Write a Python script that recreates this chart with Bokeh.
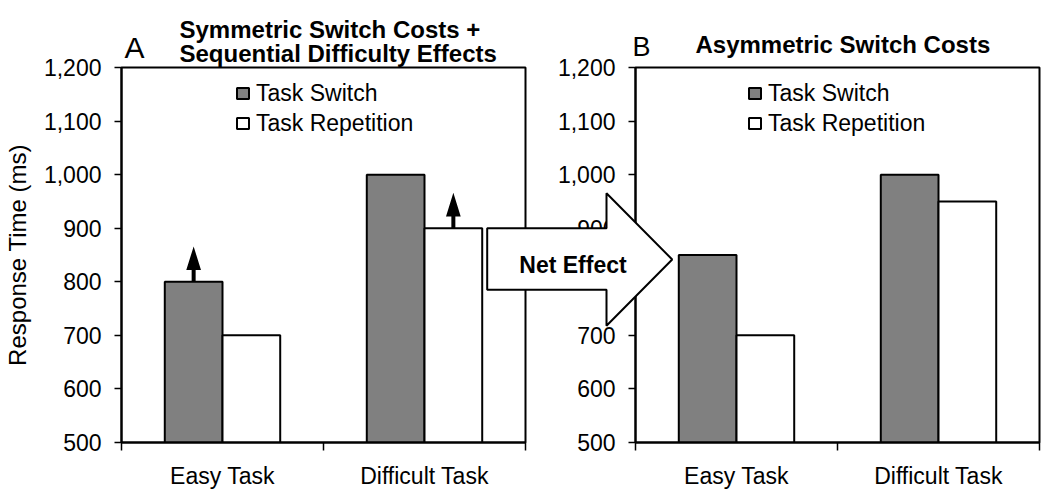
from bokeh.plotting import figure
from bokeh.layouts import row
from bokeh.models import (Range1d, LinearAxis, FixedTicker, NumeralTickFormatter,
                          Legend, LegendItem, Label, PolyAnnotation, ColumnDataSource)
from bokeh.embed import file_html
from bokeh.resources import INLINE

# ---------------- data ----------------
categories = ["Easy Task", "Difficult Task"]
series = ["Task Switch", "Task Repetition"]
panel_a_switch = [800, 1000]
panel_a_repetition = [700, 900]
panel_b_switch = [850, 1000]
panel_b_repetition = [700, 950]
y_ticks = [500, 600, 700, 800, 900, 1000, 1100, 1200]
# bars of panel A that carry a small "increase" arrow
arrow_bars_a = [("Easy Task", "Task Switch"), ("Difficult Task", "Task Repetition")]
y_label = "Response Time (ms)"
title_a = ["Symmetric Switch Costs +", "Sequential Difficulty Effects"]
title_b = "Asymmetric Switch Costs"
net_label = "Net Effect"

# ---------------- style ----------------
FONT = "Liberation Sans"
GRAY = "#808080"
FILLS = [GRAY, "white"]
BAR_W = 2 / 7
OFFSETS = [-1 / 7, 1 / 7]
FS = "23px"
FRAME_W, FRAME_H = 404, 375
TOP, BOTTOM = 67, 58


def style_axis(ax):
    ax.axis_line_color = "black"
    ax.axis_line_width = 2
    ax.major_tick_line_color = "black"
    ax.major_tick_line_width = 1.5
    ax.minor_tick_line_color = "black"
    ax.minor_tick_line_width = 1.5
    ax.major_label_text_font = FONT
    ax.major_label_text_font_size = FS
    ax.major_label_text_color = "black"


def make_panel(switch, repetition, border_left, border_right, legend_x, ylab=None):
    n = len(categories)
    p = figure(frame_width=FRAME_W, frame_height=FRAME_H,
               x_range=Range1d(0, n), y_range=Range1d(y_ticks[0], y_ticks[-1]),
               x_axis_type=None, y_axis_type=None, title=None,
               output_backend="svg", toolbar_location=None, tools="",
               min_border_left=border_left, min_border_right=border_right,
               min_border_top=TOP, min_border_bottom=BOTTOM)
    p.outline_line_color = "black"
    p.outline_line_width = 2
    p.outline_line_alpha = 1
    p.background_fill_color = "white"

    renderers = []
    for j, vals in enumerate([switch, repetition]):
        src = ColumnDataSource(dict(
            x=[i + 0.5 + OFFSETS[j] for i in range(n)],
            top=vals, cat=categories))
        r = p.vbar(x="x", top="top", bottom=y_ticks[0], width=BAR_W, source=src,
                   fill_color=FILLS[j], line_color="black", line_width=2)
        renderers.append(r)

    yaxis = LinearAxis(ticker=FixedTicker(ticks=y_ticks, minor_ticks=[]),
                       formatter=NumeralTickFormatter(format="0,0"))
    style_axis(yaxis)
    yaxis.major_tick_out = 7
    yaxis.major_tick_in = 0
    yaxis.minor_tick_out = 0
    yaxis.minor_tick_in = 0
    yaxis.major_label_standoff = 13
    if ylab:
        yaxis.axis_label = ylab
        yaxis.axis_label_text_font = FONT
        yaxis.axis_label_text_font_size = "24px"
        yaxis.axis_label_text_font_style = "normal"
        yaxis.axis_label_text_color = "black"
        yaxis.axis_label_standoff = 10
    p.add_layout(yaxis, "left")

    xaxis = LinearAxis(ticker=FixedTicker(ticks=[i + 0.5 for i in range(n)],
                                          minor_ticks=list(range(n + 1))),
                       major_label_overrides={i + 0.5: c for i, c in enumerate(categories)})
    style_axis(xaxis)
    xaxis.major_tick_out = 0
    xaxis.major_tick_in = 0
    xaxis.minor_tick_out = 8
    xaxis.minor_tick_in = 0
    xaxis.major_label_standoff = 12
    p.add_layout(xaxis, "below")

    legend = Legend(items=[LegendItem(label=s, renderers=[r]) for s, r in zip(series, renderers)],
                    location=(legend_x, 305.5), orientation="vertical",
                    padding=0, margin=0, spacing=3,
                    glyph_width=15, glyph_height=14, label_height=27, label_standoff=6,
                    label_text_font=FONT, label_text_font_size=FS,
                    label_text_baseline="alphabetic", label_text_color="black",
                    border_line_alpha=0, background_fill_alpha=0)
    p.add_layout(legend)
    return p


# ---------------- panel A ----------------
p1 = make_panel(panel_a_switch, panel_a_repetition, 121, 20, 114, ylab=y_label)

# small arrows on top of the bars that increase
hw, hh, head_base, tip = 0.0099, 0.0364, 22, 66
axs, ays = [], []
for cat, s in arrow_bars_a:
    i = categories.index(cat)
    j = series.index(s)
    c = i + 0.5 + OFFSETS[j]
    b = [panel_a_switch, panel_a_repetition][j][i]
    axs.append([c - hw, c - hw, c - hh, c, c + hh, c + hw, c + hw])
    ays.append([b, b + head_base, b + head_base, b + tip, b + head_base, b + head_base, b])
p1.patches(axs, ays, fill_color="black", line_color=None)

# ---------------- panel B ----------------
p2 = make_panel(panel_b_switch, panel_b_repetition, 90, 8, 112)

W1 = 121 + FRAME_W + 20
W2 = 90 + FRAME_W + 8
W = W1 + W2
H = TOP + FRAME_H + BOTTOM

# ---------------- overlay (separate root): panel letters, titles, "Net Effect" arrow ----------------
ov = figure(width=W, height=H, x_range=Range1d(0, W), y_range=Range1d(H, 0),
            x_axis_type=None, y_axis_type=None, title=None,
            output_backend="svg", toolbar_location=None, tools="",
            min_border_left=0, min_border_right=0, min_border_top=0, min_border_bottom=0)
ov.outline_line_color = None
ov.background_fill_alpha = 0
ov.border_fill_alpha = 0
ov.margin = (-H, 0, 0, 0)


def add_text(x, y, text, size, bold=False, align="left"):
    ov.add_layout(Label(x=x, y=y, text=text, text_font=FONT, text_font_size=size,
                        text_font_style="bold" if bold else "normal",
                        text_align=align, text_baseline="alphabetic", text_color="black"))


add_text(124, 47.3, "A", "30px")
add_text(179, 28.7, title_a[0], "24px", bold=True)
add_text(179, 53.4, title_a[1], "24px", bold=True)
add_text(632, 46.3, "B", "27px")
add_text(695, 44, title_b, "24px", bold=True)

arrow_xs = [486.7, 606, 606, 671.7, 606, 606, 486.7]
arrow_ys = [227.7, 227.7, 192.7, 259, 325.3, 289.3, 289.3]
ov.add_layout(PolyAnnotation(xs=arrow_xs, ys=arrow_ys,
                             fill_color="white", fill_alpha=1, line_color="black",
                             line_width=2, line_alpha=1))
add_text(572.5, 264, net_label, "23px", bold=True, align="center")

layout = row(p1, p2)
open("out.html", "w").write(file_html([layout, ov], INLINE, "chart"))
